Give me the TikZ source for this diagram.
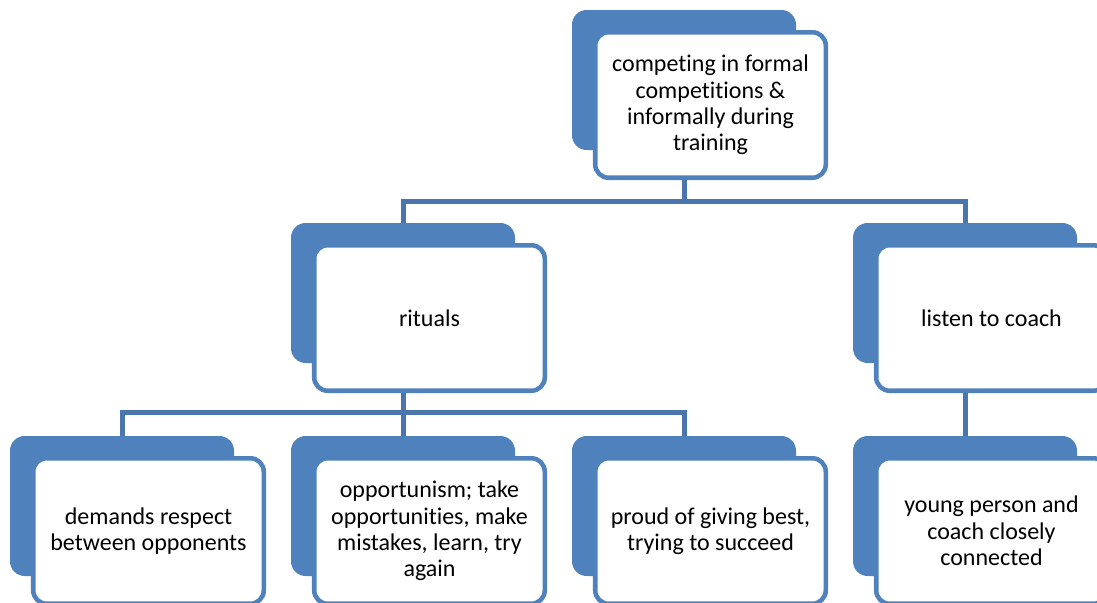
\documentclass[tikz,border=0pt]{standalone}
\usepackage{fontspec}
\setmainfont[Ligatures=NoCommon]{Carlito}
\definecolor{accent}{HTML}{4F81BD}
\definecolor{connc}{HTML}{4A76AD}
\begin{document}
\begin{tikzpicture}[x=0.75pt,y=-0.75pt,
  backbox/.style={fill=accent,draw=none,rectangle,rounded corners=11pt,
    minimum width=168pt,minimum height=105pt,inner sep=0pt},
  frontbox/.style={fill=white,draw=accent,line width=3.4pt,rectangle,rounded corners=10pt,
    minimum width=172.9pt,minimum height=109.1pt,inner sep=0pt,align=center,
    font=\fontsize{18pt}{19.8pt}\selectfont,text=black},
  conn/.style={draw=connc,line width=3.75pt}]
\useasboundingbox (0,0) rectangle (1097,603);
\clip (0,0) rectangle (1097,603);
% top box: column 2
\node[backbox] (tb) at (684,80) {};
\node[frontbox] (tf) at (710.5,105) {competing in formal\\competitions \&\\informally during\\training};
% mid level
\node[backbox] (rb) at (403,293) {};
\node[frontbox] (rf) at (429.5,318) {rituals};
\node[backbox] (lb) at (965,293) {};
\node[frontbox] (lf) at (991.5,318) {listen to coach};
% bottom level
\node[backbox] (b0) at (122,506) {};
\node[frontbox] (f0) at (148.5,531) {demands respect\\between opponents};
\node[backbox] (b1) at (403,506) {};
\node[frontbox] (f1) at (429.5,531) {opportunism; take\\opportunities, make\\mistakes, learn, try\\again};
\node[backbox] (b2) at (684,506) {};
\node[frontbox] (f2) at (710.5,531) {proud of giving best,\\trying to succeed};
\node[backbox] (b3) at (965,506) {};
\node[frontbox] (f3) at (991.5,531) {young person and\\coach closely\\connected};
% junctions
\coordinate (j0) at (684,201);
\coordinate (j1) at (403,412);
\draw[conn] (tb |- tf.south) -- (j0);
\draw[conn] (rb.north) |- (j0) -| (lb.north);
\draw[conn] (rb |- rf.south) -- (j1);
\draw[conn] (b0.north) |- (j1) -| (b2.north);
\draw[conn] (j1) -- (b1.north);
\draw[conn] (lb |- lf.south) -- (b3.north);
\end{tikzpicture}
\end{document}
